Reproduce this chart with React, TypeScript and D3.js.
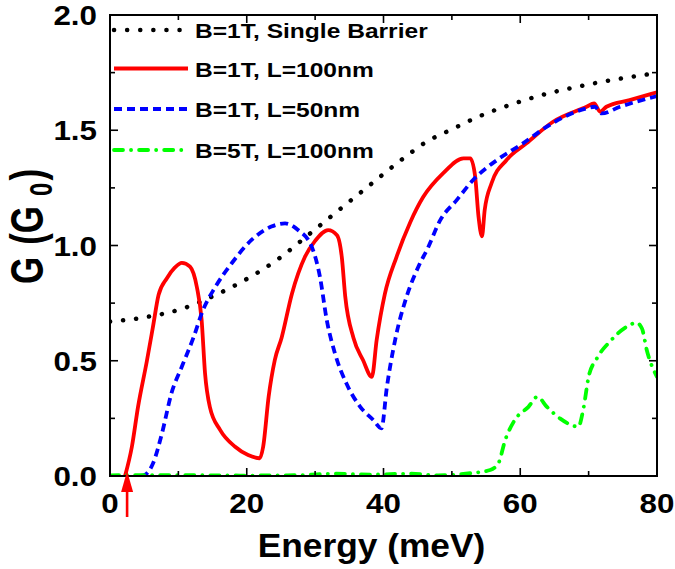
import * as React from 'react';
import * as d3 from 'd3';

// x ticks and y ticks
const xTicks = [0, 20, 40, 60, 80];
const xMinor = [10, 30, 50, 70];
const yTicks = [0, 0.5, 1.0, 1.5, 2.0];
const yMinor = [0.25, 0.75, 1.25, 1.75];

const singleBarrier: [number, number][] = [
  [0, 0.67], [5, 0.688], [10.7, 0.727], [14.9, 0.778], [19.3, 0.843], [24.4, 0.937],
  [29.3, 1.053], [32.9, 1.14], [38, 1.262], [42.9, 1.378], [46.3, 1.45], [50, 1.504],
  [53.9, 1.559], [59.2, 1.617], [64.1, 1.66], [67.3, 1.682], [72.1, 1.711], [77, 1.735], [80, 1.748],
];

const b1L100: [number, number][] = [
  [2.2, 0], [3.2, 0.127], [4.1, 0.3], [5.4, 0.5], [6.3, 0.65], [7.1, 0.785], [8.3, 0.857],
  [9.5, 0.905], [10.5, 0.925], [11.7, 0.908], [12.7, 0.82], [13.4, 0.677], [13.9, 0.445],
  [14.6, 0.3], [16.1, 0.2], [18.3, 0.127], [20.2, 0.091], [21.9, 0.077], [22.4, 0.127],
  [23.2, 0.344], [24.1, 0.503], [25.1, 0.6], [26.6, 0.79], [28.5, 0.95], [30, 1.02],
  [31.9, 1.067], [33.2, 1.045], [33.9, 0.95], [34.4, 0.78], [35.6, 0.6], [37, 0.503],
  [38.3, 0.43], [39, 0.59], [40.2, 0.79], [41.9, 0.95], [43.9, 1.1], [45.8, 1.21],
  [48.7, 1.313], [51.7, 1.378], [52.7, 1.378], [53.4, 1.3], [53.9, 1.125], [54.4, 1.04],
  [54.8, 1.154], [55.8, 1.27], [58, 1.371], [60.9, 1.443], [64.8, 1.537], [69.7, 1.602],
  [70.8, 1.617], [71.7, 1.58], [72.6, 1.602], [76, 1.631], [80, 1.665],
];

const b1L50: [number, number][] = [
  [4.5, 0], [5.1, 0.005], [6.3, 0.055], [7.6, 0.185], [9, 0.36], [10.5, 0.474], [12.2, 0.6],
  [13.6, 0.72], [15.4, 0.82], [17.8, 0.923], [20.7, 1.024], [23.6, 1.082], [25.6, 1.096],
  [27.5, 1.067], [29.5, 0.995], [30.7, 0.865], [31.7, 0.677], [32.9, 0.532], [34.6, 0.4],
  [36.6, 0.3], [38.5, 0.243], [39.7, 0.207], [40.5, 0.387], [41.7, 0.59], [43.4, 0.78],
  [45.1, 0.908], [46.5, 0.99], [48.3, 1.11], [50.7, 1.197], [53.1, 1.284], [56.6, 1.371],
  [60.4, 1.443], [63.9, 1.516], [69.7, 1.595], [70.9, 1.602], [71.9, 1.573], [74.6, 1.602],
  [80, 1.648],
];

const b5L100: [number, number][] = [
  [0, 0.003], [10, 0.004], [20, 0.002], [28, 0.004], [33, 0.01], [38, 0.006], [44, 0.01],
  [48, 0.003], [52.7, 0.012], [55.6, 0.026], [56.8, 0.055], [57.8, 0.156], [59.2, 0.243],
  [61.2, 0.3], [62.5, 0.344], [63.9, 0.3], [65.8, 0.25], [68.5, 0.214], [69.2, 0.286],
  [70, 0.43], [71.2, 0.51], [73.1, 0.583], [75.6, 0.648], [77, 0.665], [77.8, 0.64],
  [78.5, 0.547], [80, 0.43],
];

const arrowX = 2.5;

const series = [
  {label: 'B=1T, Single Barrier', data: singleBarrier, color: '#000000', dash: '0.1,13', cap: 'round'},
  {label: 'B=1T, L=100nm', data: b1L100, color: '#ff0000', dash: '', cap: 'butt'},
  {label: 'B=1T, L=50nm', data: b1L50, color: '#0000ff', dash: '8,5', cap: 'butt'},
  {label: 'B=5T, L=100nm', data: b5L100, color: '#00ff00', dash: '9,8,0.1,8', cap: 'round'},
];

const W = 675, H = 569;
const margin = {left: 110, right: 18, top: 15, bottom: 93};
const font = '"Liberation Sans", Arial, sans-serif';

// text in the picture is a bit wider than Arial
function Txt(props: {x: number, y: number, size: number, sx?: number, anchor?: string, children: any}) {
  return <g transform={`translate(${props.x},${props.y}) scale(${props.sx || 1.12},1)`}>
    <text fontFamily={font} fontWeight="bold" fontSize={props.size}
          textAnchor={props.anchor || 'start'}>{props.children}</text>
  </g>;
}

export default function App() {
  const x = d3.scaleLinear().domain([0, 80]).range([margin.left, W - margin.right]);
  const y = d3.scaleLinear().domain([0, 2]).range([H - margin.bottom, margin.top]);
  const line = d3.line<[number, number]>()
    .x((d) => x(d[0]))
    .y((d) => y(d[1]))
    .curve(d3.curveMonotoneX);

  const x0 = x(0), x1 = x(80), y0 = y(0), y1 = y(2);
  const major = 8, minor = 5;

  return <svg width={W} height={H} style={{position: 'absolute', left: 0, top: 0}}>
    <defs>
      <clipPath id="plot">
        <rect x={x0} y={y1} width={x1 - x0} height={y0 - y1} />
      </clipPath>
    </defs>
    <rect x={0} y={0} width={W} height={H} fill="#fff" />

    <g clipPath="url(#plot)">
      {series.map((s) =>
        <path key={s.label} d={line(s.data) || ''} fill="none" stroke={s.color}
              strokeWidth={s.color === '#000000' ? 4.5 : 3.8} strokeDasharray={s.dash || undefined}
              strokeLinecap={s.cap as any} strokeLinejoin="round" />)}
    </g>

    {/* frame */}
    <rect x={x0} y={y1} width={x1 - x0} height={y0 - y1} fill="none" stroke="#000" strokeWidth={2} />

    {/* ticks, all pointing inward */}
    {xTicks.concat(xMinor).map((t) => {
      const len = xTicks.indexOf(t) >= 0 ? major : minor;
      return <g key={'x' + t} stroke="#000" strokeWidth={1.6}>
        <line x1={x(t)} x2={x(t)} y1={y0} y2={y0 - len} />
        <line x1={x(t)} x2={x(t)} y1={y1} y2={y1 + len} />
      </g>;
    })}
    {yTicks.concat(yMinor).map((t) => {
      const len = yTicks.indexOf(t) >= 0 ? major : minor;
      return <g key={'y' + t} stroke="#000" strokeWidth={1.6}>
        <line x1={x0} x2={x0 + len} y1={y(t)} y2={y(t)} />
        <line x1={x1} x2={x1 - len} y1={y(t)} y2={y(t)} />
      </g>;
    })}

    {xTicks.map((t) =>
      <Txt key={'xl' + t} x={x(t)} y={y0 + 37} size={28} anchor="middle">{String(t)}</Txt>)}
    {yTicks.map((t) =>
      <Txt key={'yl' + t} x={x0 - 13} y={y(t) + 10} size={28} anchor="end">{t.toFixed(1)}</Txt>)}

    <Txt x={(x0 + x1) / 2 - 12} y={557} size={33} sx={1.07} anchor="middle">Energy (meV)</Txt>
    <g transform="translate(43,284) rotate(-90) scale(1,1.3)">
      <text fontFamily={font} fontWeight="bold" fontSize={35}>
        G<tspan dx={12}>(</tspan>G<tspan fontSize={24} dx={10} dy={7}>0</tspan><tspan dx={2} dy={-7}>)</tspan>
      </text>
    </g>

    {/* legend */}
    {series.map((s, i) => {
      const ly = [30, 68.5, 109, 150][i];
      return <g key={'lg' + i}>
        <line x1={114} x2={188} y1={ly} y2={ly} stroke={s.color}
              strokeWidth={s.color === '#000000' ? 4.5 : 3.8}
              strokeDasharray={s.dash || undefined} strokeLinecap={s.cap as any} />
        <Txt x={195} y={ly + 8} size={21} sx={1.17}>{s.label}</Txt>
      </g>;
    })}

    {/* arrow marking the onset */}
    <line x1={x(arrowX)} x2={x(arrowX)} y1={517} y2={488} stroke="#ff0000" strokeWidth={2.6} />
    <path d={`M${x(arrowX)},${471} L${x(arrowX) - 6},${492} L${x(arrowX) + 6},${492} Z`} fill="#ff0000" />
  </svg>;
}
